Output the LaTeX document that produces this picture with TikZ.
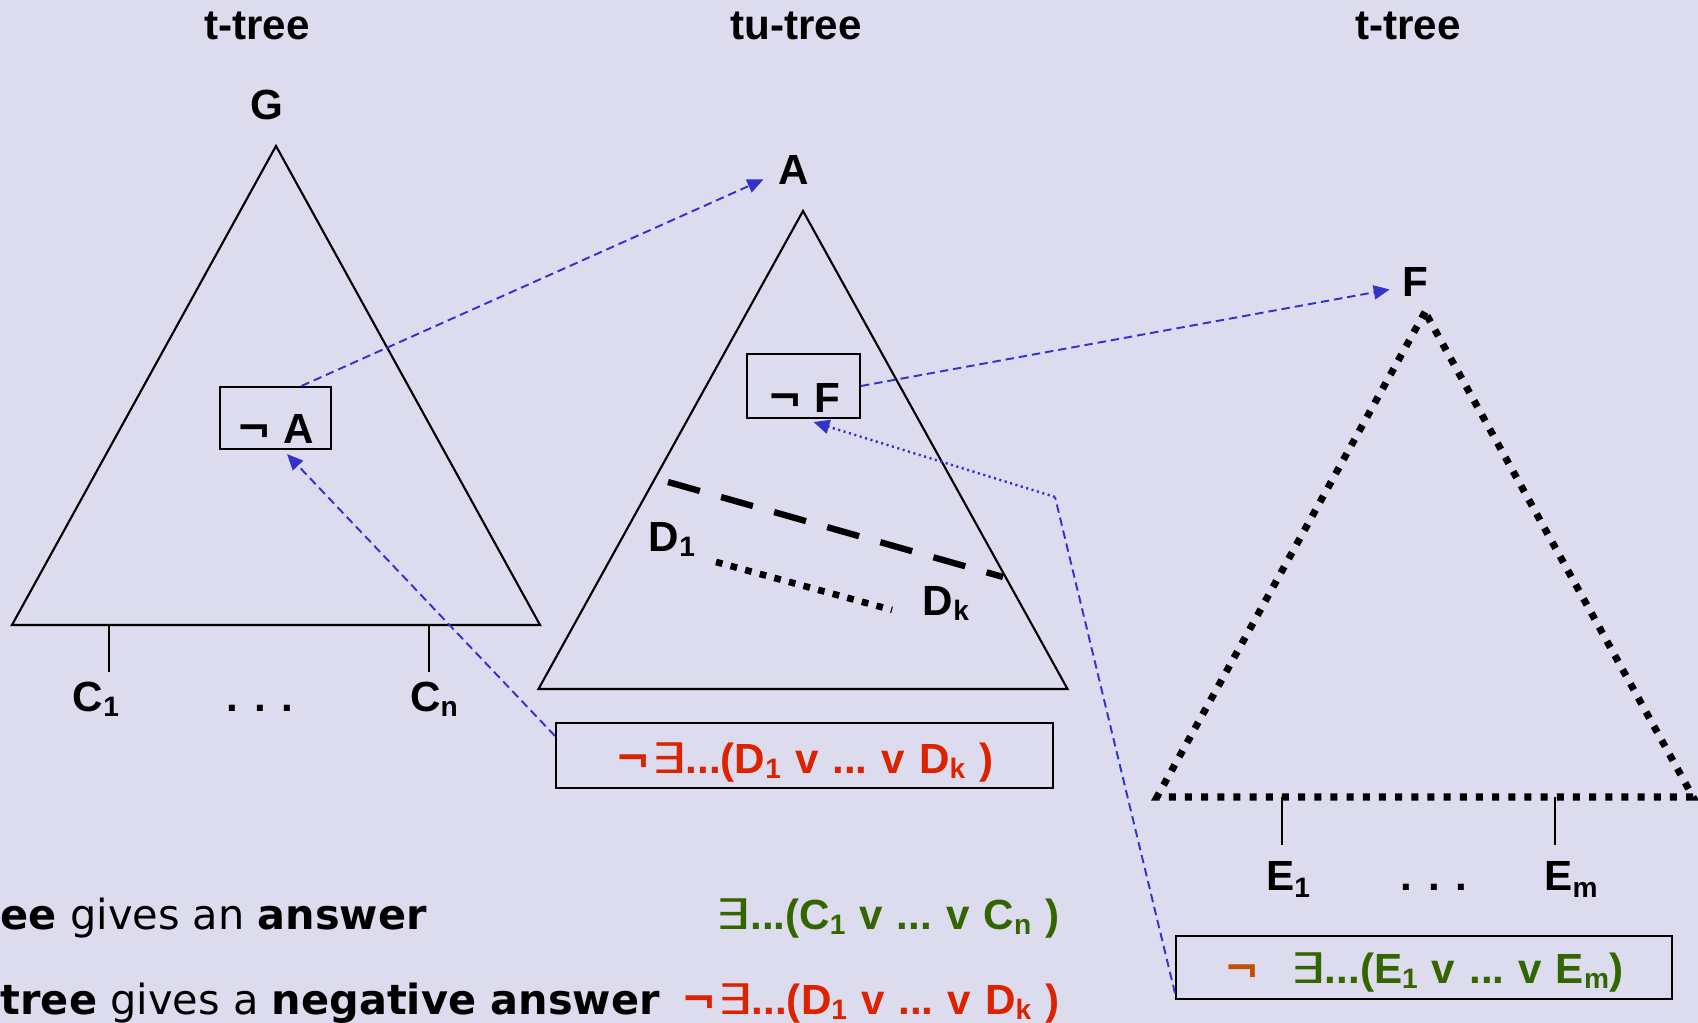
\documentclass[tikz,border=0pt]{standalone}
\usepackage{fontspec}
\usepackage{graphicx}
\setmainfont{Liberation Sans}
\newfontfamily\verdfont{DejaVu Sans}
\usetikzlibrary{positioning, arrows.meta, calc}
\definecolor{lavender}{RGB}{220, 220, 238}
\definecolor{linkblue}{RGB}{51, 51, 204}
\definecolor{negred}{RGB}{221, 34, 0}
\definecolor{ansgreen}{RGB}{51, 102, 0}
\definecolor{notorange}{RGB}{192, 80, 0}
\newcommand{\exsym}{{\verdfont\mdseries\scalebox{1.3}[1]{∃}}}
\newcommand{\negsym}{{\verdfont\bfseries ¬}}
\newcommand{\lowsub}[1]{\raisebox{-0.2ex}{\fontsize{8}{9}\selectfont #1}}
\newcommand{\fgap}{\hspace{0.14cm}}
\tikzset{
  lbl/.style={
    font=\fontsize{12}{14}\selectfont\bfseries,
    anchor=base
  },
  litbox/.style={
    draw, semithick,
    font=\fontsize{12}{14}\selectfont\bfseries,
    text depth=0cm,
    inner xsep=0pt,
    align=center
  },
  treeline/.style={semithick, line join=miter},
  dotline/.style={line width=2pt, dash pattern=on 2pt off 2.6pt},
  bigdash/.style={line width=1.8pt, dash pattern=on 9.4pt off 6.3pt},
  bigdot/.style={line width=1.9pt, dash pattern=on 1.9pt off 2.4pt}
}
\newcommand{\drawtree}[6]{
  \draw[#1] (#2, #3) coordinate (#4_top) --
    ++(-#5, -#6) coordinate (#4_bl) --
    ++(2*#5, 0) coordinate (#4_br) -- cycle;
}

\begin{document}
\begin{tikzpicture}[
  x=1cm, y=1cm,
  link/.style={-{Triangle[length=1.6mm, width=1.4mm]}, linkblue, line width=0.55pt, dash pattern=on 2.4pt off 1.4pt},
  linkdot/.style={-{Triangle[length=1.6mm, width=1.4mm]}, linkblue, line width=0.7pt, dash pattern=on 0.6pt off 1pt},
  bottomtext/.style={font=\verdfont\fontsize{11.8}{14}\selectfont, anchor=base west, inner sep=0pt},
  formula/.style={font=\fontsize{12}{14}\selectfont\bfseries, anchor=base east, inner sep=0pt},
]

% Background
\path[use as bounding box, fill=lavender] (0, 0) rectangle (16.98, 10.23);

% Titles
\node[lbl] (title_l) at (2.57, 9.83) {t-tree};
\node[lbl] (title_m) at (7.96, 9.83) {tu-tree};
\node[lbl] (title_r) at (14.08, 9.83) {t-tree};

% Roots
\node[lbl] (Glab) at (2.67, 9.03) {G};
\node[lbl] (Alab) at (7.94, 8.38) {A};
\node[lbl] (Flab) at (14.15, 7.26) {F};

% Trees
\drawtree{treeline}{2.76}{8.77}{ttree}{2.64}{4.79}
\drawtree{treeline}{8.03}{8.12}{tutree}{2.645}{4.78}
\drawtree{dotline}{14.25}{7.11}{etree}{2.68}{4.85}

% Leaves of the left t-tree
\draw[treeline] ($(ttree_bl)+(0.97, 0)$) -- ++(0, -0.47);
\draw[treeline] ($(ttree_bl)+(4.17, 0)$) -- ++(0, -0.47);
\node[lbl] (C1) at (0.96, 3.11) {C\lowsub{1}};
\node[lbl] (Cdots) at (2.60, 3.11) {. . .};
\node[lbl] (Cn) at (4.34, 3.11) {C\lowsub{n}};

% Leaves of the right t-tree
\draw[treeline] ($(etree_bl)+(1.25, 0)$) -- ++(0, -0.48);
\draw[treeline] ($(etree_bl)+(3.98, 0)$) -- ++(0, -0.48);
\node[lbl] (E1) at (12.89, 1.32) {E\textsubscript{1}};
\node[lbl] (Edots) at (14.34, 1.32) {. . .};
\node[lbl] (Em) at (15.72, 1.32) {E\textsubscript{m}};

% Inside the tu-tree
\draw[bigdash] (6.68, 5.41) -- (10.03, 4.46);
\draw[bigdot] (7.16, 4.61) -- (8.92, 4.13);
\node[lbl] (D1) at (6.72, 4.71) {D\lowsub{1}};
\node[lbl] (Dk) at (9.46, 4.07) {D\lowsub{k}};

% Literal boxes
\node[litbox, minimum width=1.11cm, minimum height=0.62cm, text height=0.51cm, inner ysep=0.055cm] (negA) at (2.755, 6.05) {\negsym{} A};
\node[litbox, minimum width=1.13cm, minimum height=0.64cm, text height=0.54cm, inner ysep=0.05cm] (negF) at (8.035, 6.37) {\negsym{} F};
\node[litbox, minimum width=4.97cm, minimum height=0.65cm, text height=0.37cm, inner ysep=0.14cm, text=negred] (redbox) at (8.045, 2.675) {\negsym\exsym...(D\lowsub{1}\fgap v\fgap ...\fgap v\fgap D\lowsub{k}\fgap)};
\node[litbox, minimum width=4.96cm, minimum height=0.63cm, text height=0.33cm, inner ysep=0.15cm, text=ansgreen] (greenbox) at (14.24, 0.555) {\textcolor{notorange}{\negsym}\hspace{0.3cm}\exsym...(E\lowsub{1}\fgap v\fgap ...\fgap v\fgap E\lowsub{m})};

% Links between the trees
\draw[link] ($(negA.north west)!0.73!(negA.north east)$) -- ([xshift=-0.3mm, yshift=-0.9mm]Alab.west);
\draw[link] (negF.east) -- ([yshift=-0.7mm]Flab.west);
\draw[link] ([yshift=-1.4mm]redbox.north west) -- ([xshift=1.15mm, yshift=-0.4mm]negA.south);
\coordinate (bend) at (10.55, 5.26);
\draw[link, -] ([yshift=0.7mm]greenbox.south west) -- (bend);
\draw[linkdot] (bend) -- ([xshift=1mm, yshift=-0.3mm]negF.south);

% Answers
\node[bottomtext] (ans_t) at (0, 0.93) {\textbf{ee} gives an \textbf{answer}};
\node[bottomtext] (ans_tu) at (0, 0.08) {\textbf{tree} gives a \textbf{negative answer}};
\node[formula, text=ansgreen] (form_t) at (10.60, 0.93) {\exsym...(C\lowsub{1}\fgap v\fgap ...\fgap v\fgap C\lowsub{n}\fgap)};
\node[formula, text=negred] (form_tu) at (10.60, 0.08) {\negsym\exsym...(D\lowsub{1}\fgap v\fgap ...\fgap v\fgap D\lowsub{k}\fgap)};

\end{tikzpicture}
\end{document}
